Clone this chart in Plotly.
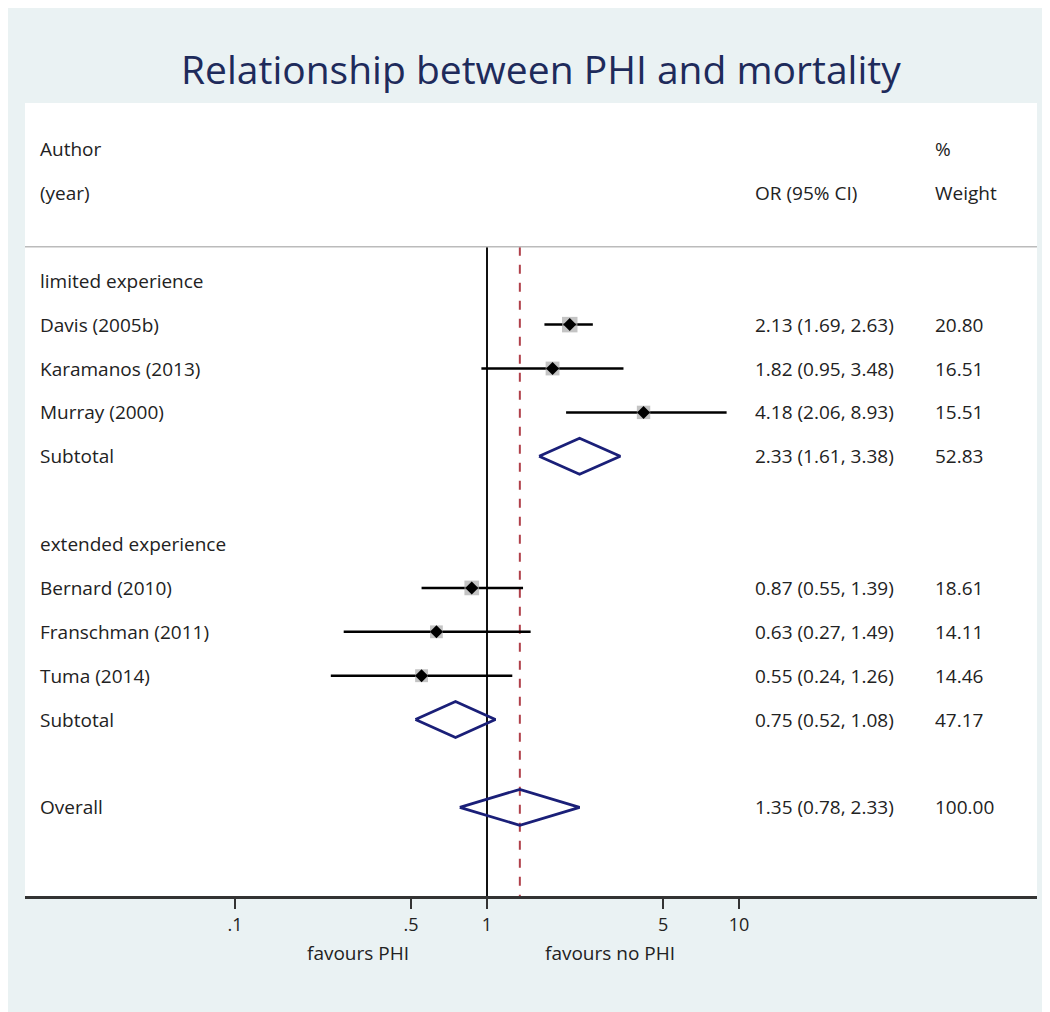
import plotly.graph_objects as go
import math

# ---------------- data ----------------
studies = ["Davis (2005b)", "Karamanos (2013)", "Murray (2000)",
           "Bernard (2010)", "Franschman (2011)", "Tuma (2014)"]
study_or = [2.13, 1.82, 4.18, 0.87, 0.63, 0.55]
study_lo = [1.69, 0.95, 2.06, 0.55, 0.27, 0.24]
study_hi = [2.63, 3.48, 8.93, 1.39, 1.49, 1.26]
study_wt = [20.80, 16.51, 15.51, 18.61, 14.11, 14.46]
study_row = [1, 2, 3, 7, 8, 9]

groups = ["limited experience", "extended experience"]
group_row = [0, 6]

pooled_lab = ["Subtotal", "Subtotal", "Overall"]
pooled_or = [2.33, 0.75, 1.35]
pooled_lo = [1.61, 0.52, 0.78]
pooled_hi = [3.38, 1.08, 2.33]
pooled_wt = [52.83, 47.17, 100.00]
pooled_row = [4, 10, 12]

tick_vals = [0.1, 0.5, 1, 5, 10]
tick_text = [".1", ".5", "1", "5", "10"]

title = "Relationship between PHI and mortality"

# ---------------- styling ----------------
BG = "#EAF2F3"
NAVY = "#1A1F78"
TITLE_C = "#1E2B5B"
TXT = "#222222"
FONT = "Open Sans"
W, H = 1070, 1030
OFF = 8  # page offset of the figure (body margin)
# plot area in page pixels
P_L, P_R, P_T, P_B = 25, 1037, 103, 896
ML = P_L - OFF
MT = P_T - OFF
MR = W - (P_R - OFF)
MB = H - (P_B - OFF)
PW = P_R - P_L
PH = P_B - P_T

def px2paper_x(px):
    return (px - P_L) / PW

def px2paper_y(py):
    return (P_B - py) / PH

# log range: 1 at page pixel 487, 252 px per decade
x_lo = (P_L - 487) / 252.0
x_hi = (P_R - 487) / 252.0
y_top, y_bot = -4.05, 14.02
sep_y = -0.775

fig = go.Figure()

# reference lines
fig.add_trace(go.Scatter(x=[1, 1], y=[sep_y, y_bot], mode="lines",
                         line=dict(color="#111111", width=2), hoverinfo="skip", showlegend=False))
fig.add_trace(go.Scatter(x=[pooled_or[2], pooled_or[2]], y=[sep_y, y_bot], mode="lines",
                         line=dict(color="#B0404A", width=2, dash="dash"), hoverinfo="skip", showlegend=False))

# CIs
for o, lo, hi, r in zip(study_or, study_lo, study_hi, study_row):
    fig.add_trace(go.Scatter(x=[lo, hi], y=[r, r], mode="lines",
                             line=dict(color="black", width=2.5), hoverinfo="skip", showlegend=False))

# weight boxes
fig.add_trace(go.Scatter(x=study_or, y=study_row, mode="markers",
                         marker=dict(symbol="square", color="#ABABAB",
                                     size=[3.4 * math.sqrt(w) for w in study_wt],
                                     line=dict(width=0)),
                         hoverinfo="skip", showlegend=False))
fig.add_trace(go.Scatter(x=study_or, y=study_row, mode="markers",
                         marker=dict(symbol="diamond", color="black", size=10, line=dict(width=0)),
                         hoverinfo="skip", showlegend=False))

# diamonds
for o, lo, hi, r in zip(pooled_or, pooled_lo, pooled_hi, pooled_row):
    fig.add_trace(go.Scatter(x=[lo, o, hi, o, lo], y=[r, r - 0.41, r, r + 0.41, r],
                             mode="lines", line=dict(color=NAVY, width=2.8),
                             hoverinfo="skip", showlegend=False))

ann = []
def txt(px, y, s, anchor="left", size=19, color=TXT):
    ann.append(dict(x=px2paper_x(px), xref="paper", y=y, yref="y", text=s,
                    showarrow=False, xanchor=anchor, yanchor="middle",
                    font=dict(family=FONT, size=size, color=color)))

X_LAB, X_OR, X_WT = 38, 753, 933
# headers
txt(X_LAB, -3, "Author")
txt(X_LAB, -2, "(year)")
txt(X_OR, -2, "OR (95% CI)")
txt(X_WT, -3, "%")
txt(X_WT, -2, "Weight")

for g, r in zip(groups, group_row):
    txt(X_LAB, r, g)
for s, o, lo, hi, w, r in zip(studies, study_or, study_lo, study_hi, study_wt, study_row):
    txt(X_LAB, r, s)
    txt(X_OR, r, f"{o:.2f} ({lo:.2f}, {hi:.2f})")
    txt(X_WT, r, f"{w:.2f}")
for s, o, lo, hi, w, r in zip(pooled_lab, pooled_or, pooled_lo, pooled_hi, pooled_wt, pooled_row):
    txt(X_LAB, r, s)
    txt(X_OR, r, f"{o:.2f} ({lo:.2f}, {hi:.2f})")
    txt(X_WT, r, f"{w:.2f}")

# favours labels
for px, s in [(358, "favours PHI"), (610, "favours no PHI")]:
    ann.append(dict(x=px2paper_x(px), xref="paper", y=px2paper_y(953), yref="paper", text=s,
                    showarrow=False, xanchor="center", yanchor="middle",
                    font=dict(family=FONT, size=19, color=TXT)))

# title
ann.append(dict(x=px2paper_x(541), xref="paper", y=px2paper_y(69), yref="paper", text=title,
                showarrow=False, xanchor="center", yanchor="middle",
                font=dict(family=FONT, size=39, color=TITLE_C)))

shapes = [
    dict(type="line", xref="paper", yref="y", x0=0, x1=1, y0=sep_y, y1=sep_y,
         line=dict(color="#BBBBBB", width=1.5)),
]

fig.update_layout(
    width=W, height=H,
    margin=dict(l=ML, r=MR, t=MT, b=MB),
    paper_bgcolor=BG, plot_bgcolor="white",
    annotations=ann, shapes=shapes,
    xaxis=dict(type="log", range=[x_lo, x_hi], tickvals=tick_vals, ticktext=tick_text,
               showgrid=False, zeroline=False, showline=True, linecolor="#333333", linewidth=3,
               ticks="outside", ticklen=10, tickwidth=1.5, tickcolor="#333333",
               tickfont=dict(family=FONT, size=18, color=TXT)),
    yaxis=dict(range=[y_bot, y_top], visible=False, showgrid=False, zeroline=False),
)

fig.write_html("out.html")
